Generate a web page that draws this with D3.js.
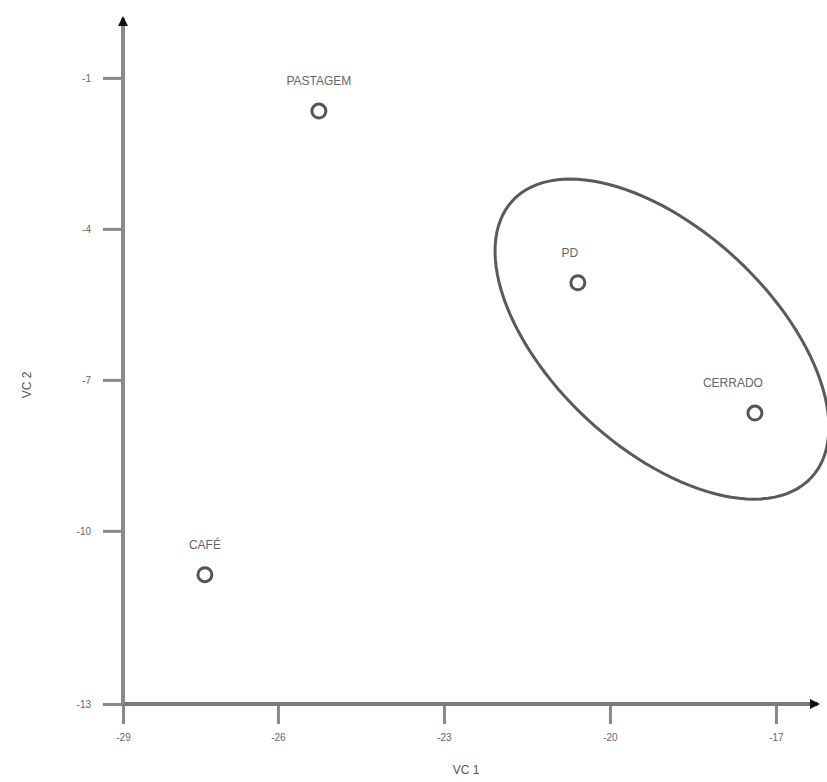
<!DOCTYPE html>
<html>
<head>
<meta charset="utf-8">
<script src="https://cdn.jsdelivr.net/npm/d3@7"></script>
<style>
  body { margin: 0; background: #fff; }
  svg { display: block; font-family: "Liberation Sans", Arial, sans-serif; }
  .tick text { fill: #666; font-size: 10px; }
  .tick line { stroke: #888; stroke-width: 3; }
</style>
</head>
<body>
<svg id="chart" width="827" height="782"></svg>
<script>
// grupos (uso do solo) e escores nas variáveis canônicas
var grupos = ['PASTAGEM', 'PD', 'CERRADO', 'CAFÉ'];
var vc1 = [-25.26, -20.58, -17.38, -27.32];
var vc2 = [-1.66, -5.07, -7.66, -10.87];

// ticks dos eixos
var xTickValues = [-28.8, -26, -23, -20, -17];
var xTickLabels = ['-29', '-26', '-23', '-20', '-17'];
var yTickValues = [-1, -4, -7, -10, -13.44];
var yTickLabels = ['-1', '-4', '-7', '-10', '-13'];

// elipse em torno de PD e CERRADO (centro e semi-eixos em unidades dos eixos)
var elipseCentro = [-19.06, -6.19];
var elipseEixoMaior = [2.70, -2.75];
var elipseEixoMenor = [-1.345, -1.596];

var svg = d3.select('#chart');

var x = d3.scaleLinear().domain([-28.8, -16.24]).range([123, 818]);
var y = d3.scaleLinear().domain([-13.44, 0.19]).range([704, 18]);

// setas
var defs = svg.append('defs');
defs.append('marker')
  .attr('id', 'seta')
  .attr('viewBox', '0 0 10 10')
  .attr('refX', 8).attr('refY', 5)
  .attr('markerWidth', 2.5).attr('markerHeight', 2.5)
  .attr('orient', 'auto')
  .append('path')
  .attr('d', 'M0,0L10,5L0,10z')
  .attr('fill', '#111');

// eixo X
var xAxis = d3.axisBottom(x)
  .tickValues(xTickValues)
  .tickFormat(function(d, i) { return xTickLabels[i]; })
  .tickSize(20)
  .tickPadding(10);
var gx = svg.append('g')
  .attr('transform', 'translate(0,' + y(-13.44) + ')')
  .call(xAxis);
gx.select('.domain').remove();

// eixo Y
var yAxis = d3.axisLeft(y)
  .tickValues(yTickValues)
  .tickFormat(function(d, i) { return yTickLabels[i]; })
  .tickSize(20)
  .tickPadding(12);
var gy = svg.append('g')
  .attr('transform', 'translate(' + x(-28.8) + ',0)')
  .call(yAxis);
gy.select('.domain').remove();

svg.append('line')
  .attr('x1', x(-28.8)).attr('y1', y(-13.44))
  .attr('x2', x(-16.24)).attr('y2', y(-13.44))
  .attr('stroke', '#7a7a7a').attr('stroke-width', 4)
  .attr('marker-end', 'url(#seta)');
svg.append('line')
  .attr('x1', x(-28.8)).attr('y1', y(-13.44))
  .attr('x2', x(-28.8)).attr('y2', y(0.19))
  .attr('stroke', '#8a8a8a').attr('stroke-width', 4)
  .attr('marker-end', 'url(#seta)');

// títulos dos eixos
svg.append('text')
  .attr('x', x(-22.6)).attr('y', 774)
  .attr('text-anchor', 'middle')
  .attr('fill', '#555').attr('font-size', 12)
  .text('VC 1');
svg.append('text')
  .attr('transform', 'translate(31,' + y(-7.1) + ') rotate(-90)')
  .attr('text-anchor', 'middle')
  .attr('fill', '#555').attr('font-size', 12)
  .text('VC 2');

// elipse
var passos = d3.range(0, 121);
var linha = d3.line()
  .x(function(d) { return x(d[0]); })
  .y(function(d) { return y(d[1]); })
  .curve(d3.curveLinearClosed);
var pontosElipse = passos.map(function(i) {
  var t = i / 120 * 2 * Math.PI;
  return [
    elipseCentro[0] + Math.cos(t) * elipseEixoMaior[0] + Math.sin(t) * elipseEixoMenor[0],
    elipseCentro[1] + Math.cos(t) * elipseEixoMaior[1] + Math.sin(t) * elipseEixoMenor[1]
  ];
});
svg.append('path')
  .attr('d', linha(pontosElipse))
  .attr('fill', 'none')
  .attr('stroke', '#5a5a5a')
  .attr('stroke-width', 3);

// pontos
var dados = grupos.map(function(g, i) { return { nome: g, vc1: vc1[i], vc2: vc2[i] }; });

svg.selectAll('.ponto')
  .data(dados)
  .enter()
  .append('circle')
  .attr('class', 'ponto')
  .attr('cx', function(d) { return x(d.vc1); })
  .attr('cy', function(d) { return y(d.vc2); })
  .attr('r', 7)
  .attr('fill', '#fff')
  .attr('stroke', '#555')
  .attr('stroke-width', 3);

svg.selectAll('.rotulo')
  .data(dados)
  .enter()
  .append('text')
  .attr('class', 'rotulo')
  .attr('x', function(d) { return x(d.vc1) - (d.nome === 'CERRADO' ? 22 : d.nome === 'PD' ? 8 : 0); })
  .attr('y', function(d) { return y(d.vc2) - 26; })
  .attr('text-anchor', 'middle')
  .attr('fill', '#666')
  .attr('font-size', 12)
  .text(function(d) { return d.nome; });
</script>
</body>
</html>
